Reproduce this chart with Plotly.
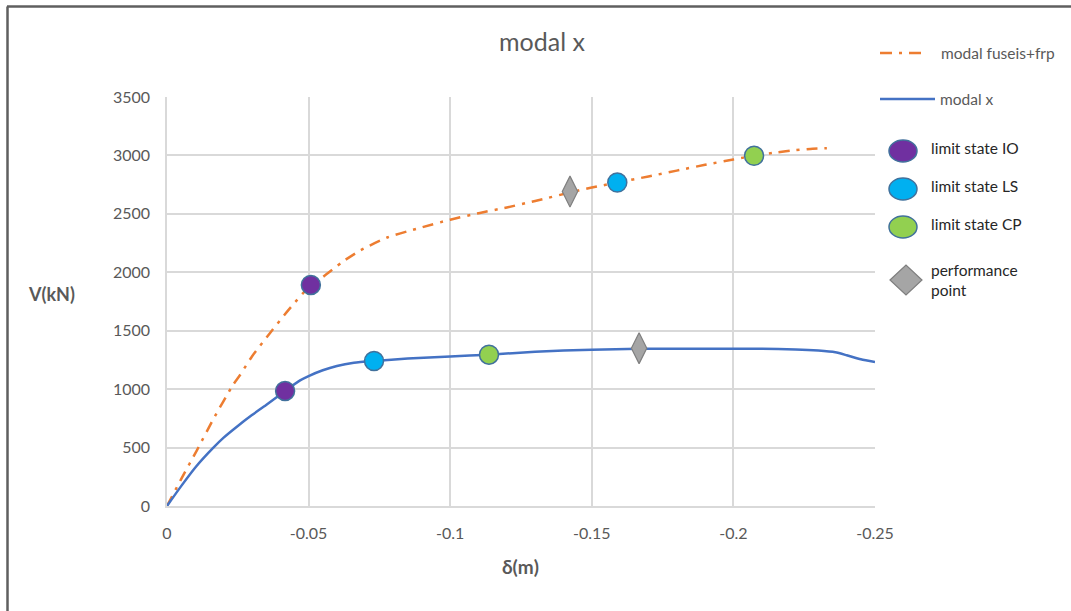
import plotly.graph_objects as go

# Pushover curves: displacement δ (m) vs base shear V (kN)
disp_frp = [0, -0.005, -0.0106, -0.0165, -0.0233, -0.0258, -0.0300, -0.0364, -0.0430,
            -0.0508, -0.0551, -0.0620, -0.0681, -0.0780, -0.0893, -0.1000, -0.1105,
            -0.1200, -0.1300, -0.1423, -0.1500, -0.1590, -0.1700, -0.1800, -0.1900,
            -0.2000, -0.2073, -0.2150, -0.2220, -0.2280, -0.2330]
shear_frp = [0, 230, 479, 750, 1036, 1121, 1280, 1481, 1680,
             1892, 1961, 2090, 2185, 2300, 2380, 2450, 2508,
             2555, 2610, 2683, 2725, 2768, 2820, 2870, 2920,
             2965, 2997, 3025, 3045, 3058, 3062]

disp_x = [0, -0.005, -0.010, -0.0162, -0.020, -0.025, -0.030, -0.035, -0.0417, -0.047,
          -0.050, -0.055, -0.060, -0.066, -0.0731, -0.085, -0.100, -0.1137, -0.130, -0.150,
          -0.1667, -0.190, -0.210, -0.222, -0.230, -0.236, -0.240, -0.245, -0.250]
shear_x = [0, 170, 330, 495, 585, 685, 778, 865, 985, 1075,
           1112, 1162, 1198, 1225, 1241, 1262, 1280, 1295, 1320, 1338,
           1345, 1345, 1345, 1340, 1330, 1315, 1290, 1255, 1233]

# Limit-state and performance points (fuseis+frp, modal x)
io_disp, io_shear = [-0.0508, -0.0417], [1892, 985]
ls_disp, ls_shear = [-0.1590, -0.0731], [2768, 1241]
cp_disp, cp_shear = [-0.2073, -0.1137], [2997, 1295]
pp_disp, pp_shear = [-0.1423, -0.1667], [2691, 1350]

x_ticks = [0, -0.05, -0.1, -0.15, -0.2, -0.25]
x_tick_labels = ["0", "-0.05", "-0.1", "-0.15", "-0.2", "-0.25"]
y_ticks = [0, 500, 1000, 1500, 2000, 2500, 3000, 3500]

ORANGE = "#ED7D31"
BLUE = "#4472C4"
EDGE = "#41719C"
PURPLE = "#7030A0"
CYAN = "#00B0F0"
GREEN = "#92D050"
GREY = "#A5A5A5"
TXT = "#595959"
FONT = "Lato, 'Open Sans', sans-serif"

W, H = 1071, 611
L, R, T, B = 167, 196, 97, 105
PW, PH = W - L - R, H - T - B


def px_x(p):
    return (p - L) / PW


def px_y(p):
    return (H - B - p) / PH


fig = go.Figure()

fig.add_trace(go.Scatter(x=disp_frp, y=shear_frp, mode="lines", name="modal fuseis+frp",
                         line=dict(color=ORANGE, width=2.5, dash="11px,7px,3px,7px",
                                   shape="spline", smoothing=0.6)))
fig.add_trace(go.Scatter(x=disp_x, y=shear_x, mode="lines", name="modal x",
                         line=dict(color=BLUE, width=2.5, shape="spline", smoothing=0.6)))

for name, xs, ys, col in [("limit state IO", io_disp, io_shear, PURPLE),
                          ("limit state LS", ls_disp, ls_shear, CYAN),
                          ("limit state CP", cp_disp, cp_shear, GREEN)]:
    fig.add_trace(go.Scatter(x=xs, y=ys, mode="markers", name=name,
                             marker=dict(symbol="circle", size=19, color=col,
                                         line=dict(color=EDGE, width=1.5))))

fig.add_trace(go.Scatter(x=pp_disp, y=pp_shear, mode="markers", name="performance point",
                         marker=dict(symbol="diamond-tall", size=22, color=GREY,
                                     line=dict(color="#7F7F7F", width=1.2))))

shapes = []
# outer frame (top and left edges)
shapes.append(dict(type="line", xref="paper", yref="paper", x0=px_x(7), x1=px_x(1071),
                   y0=px_y(6.5), y1=px_y(6.5), line=dict(color="#5F5F5F", width=2.5)))
shapes.append(dict(type="line", xref="paper", yref="paper", x0=px_x(7.5), x1=px_x(7.5),
                   y0=px_y(6.5), y1=px_y(611), line=dict(color="#5F5F5F", width=2.5)))

# legend keys
shapes.append(dict(type="line", xref="paper", yref="paper", x0=px_x(880), x1=px_x(926),
                   y0=px_y(53), y1=px_y(53),
                   line=dict(color=ORANGE, width=2.5, dash="12px,7px,3px,7px")))
shapes.append(dict(type="line", xref="paper", yref="paper", x0=px_x(880), x1=px_x(935),
                   y0=px_y(99), y1=px_y(99), line=dict(color=BLUE, width=2.5)))
for cy, col in [(151, PURPLE), (189, CYAN), (227, GREEN)]:
    shapes.append(dict(type="circle", xref="paper", yref="paper",
                       x0=px_x(889), x1=px_x(917), y0=px_y(cy + 11), y1=px_y(cy - 11),
                       fillcolor=col, line=dict(color=EDGE, width=1.5)))
cx, cy = 906, 280
shapes.append(dict(type="path", xref="paper", yref="paper",
                   path=(f"M{px_x(cx - 16)},{px_y(cy)} L{px_x(cx)},{px_y(cy - 15)} "
                         f"L{px_x(cx + 16)},{px_y(cy)} L{px_x(cx)},{px_y(cy + 15)} Z"),
                   fillcolor=GREY, line=dict(color="#7F7F7F", width=1.2)))

annotations = []
legend_texts = [("modal fuseis+frp", 939, 53, TXT), ("modal x", 938, 99, TXT),
                ("limit state IO", 929, 148, "#262626"), ("limit state LS", 929, 186, "#262626"),
                ("limit state CP", 929, 224, "#262626"),
                ("performance<br>point", 929, 280, "#262626")]
for txt, x, y, col in legend_texts:
    annotations.append(dict(text=txt, xref="paper", yref="paper", x=px_x(x), y=px_y(y),
                            xanchor="left", yanchor="middle", showarrow=False, align="left",
                            font=dict(family=FONT, size=15.5, color=col)))

annotations.append(dict(text="<b>V(kN)</b>", xref="paper", yref="paper", x=px_x(51), y=px_y(294),
                        xanchor="center", yanchor="middle", showarrow=False,
                        font=dict(family=FONT, size=18, color=TXT)))
annotations.append(dict(text="<b>δ(m)</b>", xref="paper", yref="paper", x=px_x(520), y=px_y(566),
                        xanchor="center", yanchor="middle", showarrow=False,
                        font=dict(family=FONT, size=19, color=TXT)))

fig.update_layout(
    width=W, height=H,
    margin=dict(l=L, r=R, t=T, b=B),
    paper_bgcolor="white", plot_bgcolor="white",
    showlegend=False,
    title=dict(text="modal x", x=542 / W, y=1 - 42 / H, xanchor="center", yanchor="middle",
               font=dict(family=FONT, size=25, color=TXT)),
    shapes=shapes, annotations=annotations,
    xaxis=dict(range=[0, -0.25], tickvals=x_ticks, ticktext=x_tick_labels,
               showgrid=True, gridcolor="#D9D9D9", gridwidth=1.5,
               zeroline=False, showline=True, linecolor="#D9D9D9", linewidth=1.5,
               ticks="", ticklabelstandoff=12,
               tickfont=dict(family=FONT, size=16, color=TXT)),
    yaxis=dict(range=[0, 3500], tickvals=y_ticks,
               showgrid=True, gridcolor="#D9D9D9", gridwidth=1.5,
               zeroline=False, showline=True, linecolor="#D9D9D9", linewidth=1.5,
               ticks="", ticklabelstandoff=12,
               tickfont=dict(family=FONT, size=16, color=TXT)),
)

fig.write_html("out.html")
